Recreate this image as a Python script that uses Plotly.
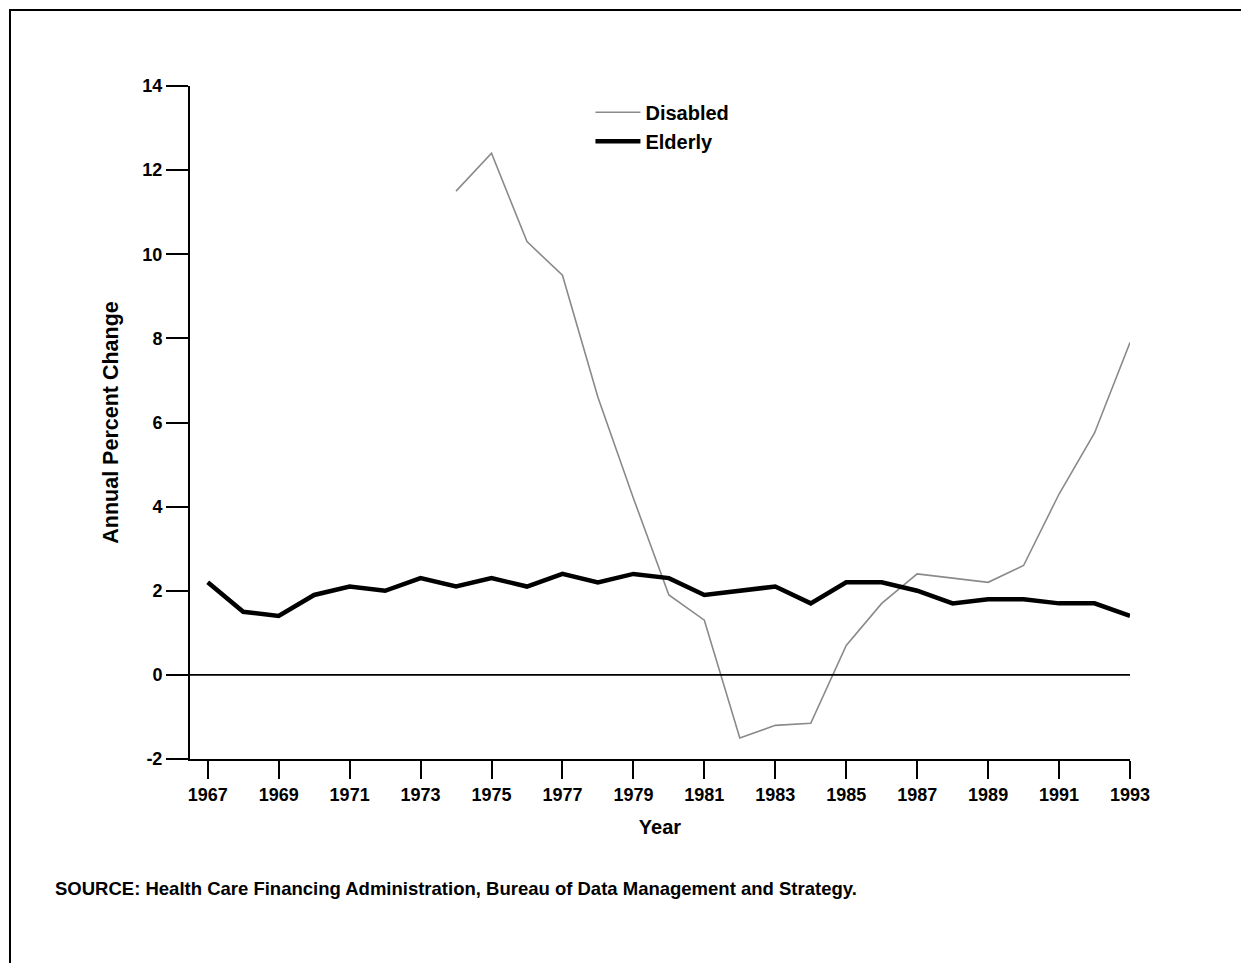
import plotly.graph_objects as go

# Annual percent change in Medicare enrollment
years = list(range(1967, 1994))
elderly = [2.2, 1.5, 1.4, 1.9, 2.1, 2.0, 2.3, 2.1, 2.3, 2.1, 2.4, 2.2, 2.4, 2.3,
           1.9, 2.0, 2.1, 1.7, 2.2, 2.2, 2.0, 1.7, 1.8, 1.8, 1.7, 1.7, 1.4]

disabled_years = list(range(1974, 1994))
disabled = [11.5, 12.4, 10.3, 9.5, 6.6, 4.2, 1.9, 1.3, -1.5, -1.2, -1.15, 0.7,
            1.7, 2.4, 2.3, 2.2, 2.6, 4.3, 5.75, 7.9]

x_ticks = list(range(1967, 1994, 2))
y_ticks = list(range(-2, 15, 2))

FONT = "Liberation Sans, Arial, sans-serif"

fig = go.Figure()
fig.add_trace(
    go.Scatter(
        x=disabled_years,
        y=disabled,
        mode="lines",
        name="Disabled",
        line={"color": "#8a8a8a", "width": 1.6},
    )
)
fig.add_trace(
    go.Scatter(
        x=years,
        y=elderly,
        mode="lines",
        name="Elderly",
        line={"color": "#000000", "width": 4.5},
    )
)

# zero reference line
fig.add_hline(y=0, line={"color": "#000000", "width": 1.8})

# outer frame of the exhibit (kept just inside the svg so it isn't clipped)
fig.add_shape(
    type="rect",
    xref="paper",
    yref="paper",
    x0=-0.1915,
    x1=1.1225,
    y0=-0.45,
    y1=1.1130,
    line={"color": "#000000", "width": 2},
)

fig.add_annotation(
    text="SOURCE: Health Care Financing Administration, Bureau of Data Management and Strategy.",
    xref="paper",
    yref="paper",
    x=-0.146,
    y=-0.192,
    xanchor="left",
    yanchor="middle",
    showarrow=False,
    font={"family": FONT, "size": 18.5, "color": "#000000", "weight": "bold"},
)

# the page adds an 8px body margin, so margins are trimmed by 8 to line up
fig.update_layout(
    width=1249,
    height=963,
    paper_bgcolor="#ffffff",
    plot_bgcolor="#ffffff",
    margin={"l": 182, "r": 127, "t": 78, "b": 212},
    showlegend=True,
    legend={
        "x": 0.426,
        "y": 0.99,
        "xanchor": "left",
        "yanchor": "top",
        "bgcolor": "rgba(0,0,0,0)",
        "itemwidth": 45,
        "font": {"family": FONT, "size": 20, "color": "#000000", "weight": "bold"},
        "tracegroupgap": 0,
    },
    font={"family": FONT, "color": "#000000"},
)

fig.update_xaxes(
    range=[1966.5, 1993],
    tickvals=x_ticks,
    ticktext=[str(y) for y in x_ticks],
    ticks="outside",
    ticklen=18,
    tickwidth=2,
    tickcolor="#000000",
    showline=True,
    linecolor="#000000",
    linewidth=2,
    showgrid=False,
    zeroline=False,
    tickfont={"family": FONT, "size": 18, "weight": "bold"},
    title={"text": "Year", "font": {"family": FONT, "size": 20, "weight": "bold"}, "standoff": 16},
)

fig.update_yaxes(
    range=[-2, 14],
    tickvals=y_ticks,
    ticktext=[str(v) for v in y_ticks],
    ticks="outside",
    ticklen=22,
    tickwidth=2,
    tickcolor="#000000",
    showline=True,
    linecolor="#000000",
    linewidth=2,
    showgrid=False,
    zeroline=False,
    tickfont={"family": FONT, "size": 18, "weight": "bold"},
    title={"text": "Annual Percent Change", "font": {"family": FONT, "size": 21.5, "weight": "bold"}, "standoff": 18},
)

fig.write_html("out.html")
